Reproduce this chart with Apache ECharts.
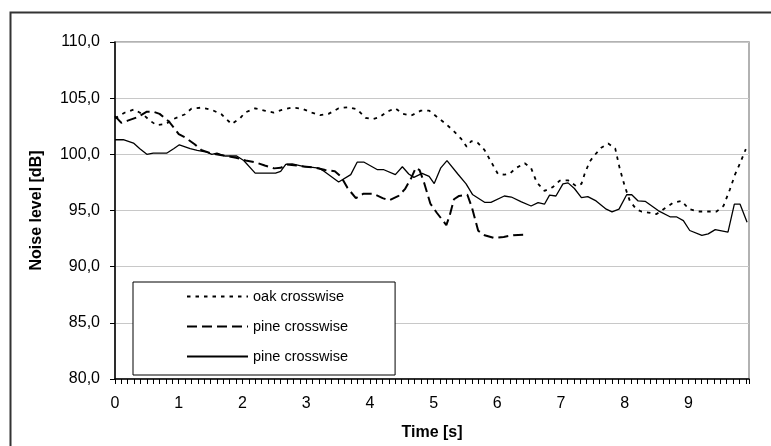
<!DOCTYPE html>
<html>
<head>
<meta charset="utf-8">
<title>Noise level</title>
<script src="https://cdn.jsdelivr.net/npm/echarts@6/dist/echarts.min.js"></script>
<style>
  html, body { margin: 0; padding: 0; background: #fff; }
  #main { width: 771px; height: 446px; }
</style>
</head>
<body>
<div id="main"></div>
<script>
// series names (two series share a label, so legend text comes from legendLabels)
var seriesNames = ['oak', 'pineDashed', 'pineSolid'];
var legendLabels = ['oak crosswise', 'pine crosswise', 'pine crosswise'];

// oak crosswise (dotted)
var oakT = [0.0, 0.15, 0.3, 0.45, 0.55, 0.65, 0.8, 0.92, 1.1, 1.2, 1.36, 1.52, 1.67, 1.83, 1.96, 2.04, 2.2, 2.36, 2.49, 2.62, 2.78, 2.93, 3.09, 3.22, 3.35, 3.51, 3.67, 3.8, 3.93, 4.04, 4.15, 4.27, 4.4, 4.52, 4.65, 4.8, 4.93, 5.06, 5.19, 5.32, 5.43, 5.52, 5.59, 5.69, 5.8, 5.9, 6.01, 6.11, 6.19, 6.29, 6.43, 6.53, 6.62, 6.74, 6.87, 6.98, 7.11, 7.24, 7.32, 7.37, 7.45, 7.53, 7.63, 7.74, 7.85, 7.92, 8.0, 8.08, 8.18, 8.26, 8.37, 8.5, 8.63, 8.76, 8.89, 9.01, 9.16, 9.31, 9.44, 9.55, 9.65, 9.73, 9.81, 9.9];
var oakDb = [103.2, 103.7, 104.0, 103.5, 103.0, 102.6, 102.7, 103.15, 103.57, 104.07, 104.16, 103.96, 103.57, 102.69, 103.19, 103.72, 104.1, 103.87, 103.72, 103.96, 104.16, 104.07, 103.72, 103.49, 103.6, 104.1, 104.2, 104.0, 103.25, 103.13, 103.3, 103.8, 104.1, 103.6, 103.45, 103.89, 103.89, 103.3, 102.72, 102.05, 101.4, 100.67, 101.17, 101.05, 100.38, 99.36, 98.25, 98.19, 98.25, 98.77, 99.21, 98.77, 97.5, 96.75, 97.08, 97.66, 97.69, 97.16, 97.37, 98.25, 99.36, 99.94, 100.58, 100.96, 100.53, 98.77, 97.16, 95.85, 95.12, 94.91, 94.82, 94.68, 95.2, 95.7, 95.85, 95.12, 94.91, 94.91, 94.91, 95.41, 96.87, 98.19, 99.21, 100.47];

// pine crosswise (dashed)
var pineDashT = [0.0, 0.1, 0.2, 0.35, 0.5, 0.6, 0.7, 0.85, 1.0, 1.1, 1.25, 1.35, 1.5, 1.7, 1.9, 2.05, 2.2, 2.35, 2.5, 2.6, 2.7, 2.85, 3.0, 3.15, 3.3, 3.45, 3.55, 3.65, 3.78, 3.9, 4.05, 4.2, 4.3, 4.45, 4.55, 4.65, 4.72, 4.78, 4.85, 4.95, 5.05, 5.2, 5.25, 5.32, 5.4, 5.53, 5.6, 5.7, 5.8, 5.95, 6.1, 6.25, 6.45];
var pineDashDb = [103.4, 102.8, 103.0, 103.3, 103.8, 103.8, 103.6, 102.9, 101.8, 101.5, 100.9, 100.4, 100.1, 99.9, 99.7, 99.45, 99.3, 99.0, 98.75, 98.8, 99.1, 99.0, 98.9, 98.8, 98.6, 98.5, 98.0, 97.0, 96.1, 96.5, 96.5, 96.1, 95.9, 96.3, 96.9, 97.9, 98.8, 98.6, 97.5, 95.6, 94.8, 93.7, 94.5, 96.0, 96.3, 96.4, 95.3, 93.2, 92.8, 92.55, 92.65, 92.8, 92.85];

// pine crosswise (solid)
var pineSolidT = [0.0, 0.13, 0.29, 0.39, 0.5, 0.6, 0.81, 0.92, 1.01, 1.18, 1.29, 1.44, 1.52, 1.6, 1.73, 1.91, 2.02, 2.2, 2.52, 2.6, 2.68, 2.78, 2.97, 3.07, 3.2, 3.28, 3.51, 3.7, 3.8, 3.91, 4.12, 4.22, 4.4, 4.51, 4.61, 4.69, 4.82, 4.93, 5.01, 5.11, 5.21, 5.38, 5.51, 5.61, 5.8, 5.9, 6.11, 6.22, 6.37, 6.53, 6.64, 6.74, 6.82, 6.92, 7.03, 7.11, 7.21, 7.32, 7.42, 7.55, 7.71, 7.8, 7.91, 8.03, 8.11, 8.21, 8.32, 8.53, 8.71, 8.81, 8.92, 9.02, 9.21, 9.31, 9.42, 9.62, 9.72, 9.81, 9.92];
var pineSolidDb = [101.3, 101.3, 101.0, 100.5, 100.0, 100.1, 100.1, 100.5, 100.85, 100.5, 100.35, 100.2, 100.0, 100.1, 99.85, 99.85, 99.45, 98.33, 98.33, 98.48, 99.1, 99.15, 98.9, 98.86, 98.77, 98.5, 97.54, 98.19, 99.3, 99.3, 98.63, 98.63, 98.19, 98.89, 98.25, 97.95, 98.3, 98.04, 97.4, 98.77, 99.44, 98.25, 97.37, 96.43, 95.73, 95.73, 96.29, 96.2, 95.79, 95.4, 95.7, 95.56, 96.37, 96.29, 97.37, 97.46, 96.96, 96.14, 96.23, 95.85, 95.12, 94.88, 95.12, 96.4, 96.4, 95.85, 95.82, 94.97, 94.44, 94.44, 94.1, 93.22, 92.78, 92.92, 93.3, 93.07, 95.56, 95.56, 93.95];

function pairs(ts, vs) {
  return ts.map(function (t, i) { return [t, vs[i]]; });
}

var myChart = echarts.init(document.getElementById('main'));

var font = 'Liberation Sans, Arial, sans-serif';

var option = {
  animation: false,
  backgroundColor: '#fff',
  textStyle: { fontFamily: font, color: '#000' },
  // outer chart frame
  graphic: [
    {
      type: 'rect',
      left: 8, top: 10,
      shape: { width: 800, height: 500 },
      style: { fill: 'none', stroke: '#333', lineWidth: 2 },
      silent: true
    }
  ],
  grid: {
    left: 115, top: 42, right: 22, bottom: 64,
    show: true,
    borderColor: '#999',
    borderWidth: 1.5
  },
  legend: {
    orient: 'vertical',
    left: 133, top: 282,
    data: seriesNames,
    formatter: function (name) { return legendLabels[seriesNames.indexOf(name)]; },
    itemWidth: 61,
    itemHeight: 14,
    itemGap: 15,
    itemTextGap: 4,
    padding: [7, 47, 11, 53],
    borderColor: '#000',
    borderWidth: 1,
    backgroundColor: '#fff',
    // hide the marker symbol, keep only the line sample
    itemStyle: { opacity: 0 },
    textStyle: { fontFamily: font, fontSize: 14.5, color: '#000' }
  },
  xAxis: {
    type: 'value',
    min: 0, max: 9.95, interval: 1,
    name: 'Time [s]',
    nameLocation: 'middle',
    nameGap: 46,
    nameTextStyle: { fontFamily: font, fontSize: 16, fontWeight: 'bold', color: '#000' },
    axisLine: { show: true, lineStyle: { color: '#000', width: 1.5 } },
    axisTick: { show: true, length: 5, lineStyle: { color: '#000' } },
    minorTick: { show: true, splitNumber: 10, length: 5, lineStyle: { color: '#000' } },
    axisLabel: { margin: 17, fontSize: 16, color: '#000', showMaxLabel: false },
    splitLine: { show: false }
  },
  yAxis: {
    type: 'value',
    min: 80, max: 110, interval: 5,
    name: 'Noise level [dB]',
    nameLocation: 'middle',
    nameGap: 70,
    nameTextStyle: { fontFamily: font, fontSize: 16, fontWeight: 'bold', color: '#000' },
    axisLine: { show: true, lineStyle: { color: '#000', width: 1.5 } },
    axisTick: { show: true, length: 5, lineStyle: { color: '#000' } },
    axisLabel: {
      margin: 15, fontSize: 16, color: '#000',
      formatter: function (v) { return v.toFixed(1).replace('.', ','); }
    },
    splitLine: { show: true, lineStyle: { color: '#c8c8c8', width: 1 } }
  },
  series: [
    {
      name: 'oak',
      type: 'line',
      symbol: 'none',
      data: pairs(oakT, oakDb),
      lineStyle: { color: '#000', width: 1.8, type: [3.5, 5] },
      itemStyle: { color: '#000' }
    },
    {
      name: 'pineDashed',
      type: 'line',
      symbol: 'none',
      data: pairs(pineDashT, pineDashDb),
      lineStyle: { color: '#000', width: 2, type: [10, 5] },
      itemStyle: { color: '#000' }
    },
    {
      name: 'pineSolid',
      type: 'line',
      symbol: 'none',
      data: pairs(pineSolidT, pineSolidDb),
      lineStyle: { color: '#000', width: 1.3 },
      itemStyle: { color: '#000' }
    }
  ]
};

myChart.setOption(option);
</script>
</body>
</html>
